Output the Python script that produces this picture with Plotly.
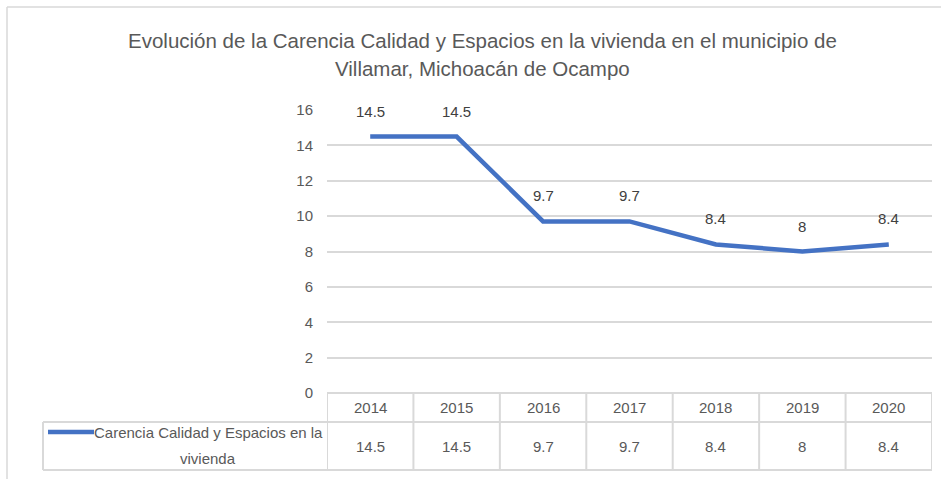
import plotly.graph_objects as go

years = ["2014", "2015", "2016", "2017", "2018", "2019", "2020"]
values = [14.5, 14.5, 9.7, 9.7, 8.4, 8, 8.4]
value_labels = ["14.5", "14.5", "9.7", "9.7", "8.4", "8", "8.4"]
series_name = "Carencia Calidad y Espacios en la vivienda"
title_lines = ["Evolución de la Carencia Calidad y Espacios en la vivienda en el municipio de",
               "Villamar, Michoacán de Ocampo"]
y_ticks = [0, 2, 4, 6, 8, 10, 12, 14, 16]

W, H = 941, 479
L, R, T, B = 327, 932, 110, 393
FONT = "Liberation Sans"
GRID = "#D9D9D9"
TXT = "#595959"
BLUE = "#4472C4"
FS = 15


def px_x(px):
    return (px - L) / (R - L)


def px_y(py):
    return (B - py) / (B - T)


fig = go.Figure()
fig.add_trace(go.Scatter(
    x=years, y=values, mode="lines", name=series_name,
    line=dict(color=BLUE, width=4.5), showlegend=False, hoverinfo="x+y"))

annotations = []
shapes = []

# data labels above points
for i, (v, lab) in enumerate(zip(values, value_labels)):
    annotations.append(dict(x=i, y=v, xref="x", yref="y", text=lab, showarrow=False,
                            yshift=25.5, yanchor="middle", xanchor="center",
                            font=dict(family=FONT, size=FS, color="#404040")))

# title
annotations.append(dict(x=px_x(482), y=px_y(40), xref="paper", yref="paper", text=title_lines[0],
                        showarrow=False, xanchor="center", yanchor="middle",
                        font=dict(family=FONT, size=20.5, color=TXT)))
annotations.append(dict(x=px_x(482), y=px_y(68), xref="paper", yref="paper", text=title_lines[1],
                        showarrow=False, xanchor="center", yanchor="middle",
                        font=dict(family=FONT, size=20.5, color=TXT)))

# data table: header years and values
for i, (yr, lab) in enumerate(zip(years, value_labels)):
    annotations.append(dict(x=i, y=px_y(407.5), xref="x", yref="paper", text=yr, showarrow=False,
                            xanchor="center", yanchor="middle",
                            font=dict(family=FONT, size=FS, color=TXT)))
    annotations.append(dict(x=i, y=px_y(446), xref="x", yref="paper", text=lab, showarrow=False,
                            xanchor="center", yanchor="middle",
                            font=dict(family=FONT, size=FS, color=TXT)))

# legend key in table
words = series_name.split(" ")
annotations.append(dict(x=px_x(208), y=px_y(432), xref="paper", yref="paper",
                        text=" ".join(words[:-1]), showarrow=False, xanchor="center", yanchor="middle",
                        font=dict(family=FONT, size=FS, color=TXT)))
annotations.append(dict(x=px_x(208), y=px_y(458), xref="paper", yref="paper",
                        text=words[-1], showarrow=False, xanchor="center", yanchor="middle",
                        font=dict(family=FONT, size=FS, color=TXT)))
shapes.append(dict(type="line", xref="paper", yref="paper", x0=px_x(48), x1=px_x(94),
                   y0=px_y(432), y1=px_y(432), line=dict(color=BLUE, width=4.5)))

# table grid lines
for py, x0 in [(393, L), (422, 43), (470, 43)]:
    shapes.append(dict(type="line", xref="paper", yref="paper", x0=px_x(x0), x1=1,
                       y0=px_y(py), y1=px_y(py), line=dict(color=GRID, width=2)))
for i in range(len(years) + 1):
    shapes.append(dict(type="line", xref="x", yref="paper", x0=i - 0.5, x1=i - 0.5,
                       y0=px_y(393), y1=px_y(470), line=dict(color=GRID, width=2)))
shapes.append(dict(type="line", xref="paper", yref="paper", x0=px_x(43), x1=px_x(43),
                   y0=px_y(422), y1=px_y(470), line=dict(color=GRID, width=2)))

# outer chart border (right and bottom edges beyond the view)
shapes.append(dict(type="line", xref="paper", yref="paper", x0=px_x(7), x1=px_x(W + 5),
                   y0=px_y(7), y1=px_y(7), line=dict(color=GRID, width=1.5)))
shapes.append(dict(type="line", xref="paper", yref="paper", x0=px_x(7), x1=px_x(7),
                   y0=px_y(7), y1=px_y(H + 5), line=dict(color=GRID, width=1.5)))

fig.update_layout(
    width=W, height=H,
    margin=dict(l=L, r=W - R, t=T, b=H - B, pad=0),
    paper_bgcolor="white", plot_bgcolor="white",
    showlegend=False,
    annotations=annotations,
    shapes=shapes,
    xaxis=dict(type="category", range=[-0.5, len(years) - 0.5], showticklabels=False,
               showgrid=False, zeroline=False, showline=False, ticks=""),
    yaxis=dict(range=[0, 16], tickvals=y_ticks, ticktext=[str(t) for t in y_ticks],
               showgrid=True, gridcolor=GRID, gridwidth=2, zeroline=False, showline=False,
               ticks="", ticklabelstandoff=13,
               tickfont=dict(family=FONT, size=FS, color=TXT)),
)

fig.write_html("out.html", config={"displayModeBar": False},
               post_script="document.body.style.margin='0px';")
